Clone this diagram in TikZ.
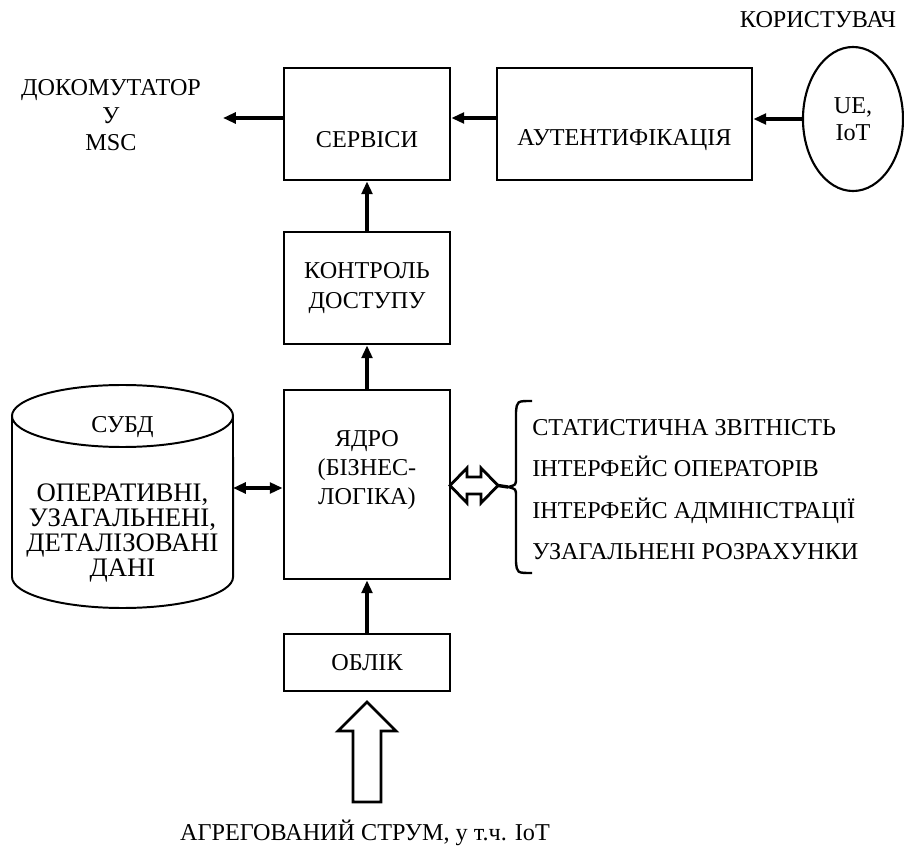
\documentclass[tikz,border=0pt]{standalone}
\usepackage{fontspec}
\setmainfont{Liberation Serif}
\usetikzlibrary{arrows.meta, positioning, calc, shapes.geometric}

\begin{document}
\begin{tikzpicture}[x=0.025cm, y=-0.025cm, >={Triangle[length=0.32cm, width=0.27cm]},
  blk/.style={draw, line width=2pt, inner sep=0pt, minimum width=4.15cm},
  txt/.style={font=\fontsize{17.2}{20}\selectfont, align=center, inner sep=0pt},
  conn/.style={->, line width=2.2pt}]
  \useasboundingbox (0,0) rectangle (904,847);

  % Blocks of the central column
  \node[blk, minimum height=2.8cm] (serv) at (367,124) {};
  \node[txt] (servt) at (367,140) {СЕРВІСИ};
  \node[blk, minimum width=6.375cm, minimum height=2.8cm] (auth) at (624.5,124) {};
  \node[txt] (autht) at (624.5,140) {АУТЕНТИФІКАЦІЯ};
  \node[blk, txt, minimum height=2.8cm, font=\fontsize{17.2}{21.5}\selectfont] (ctrl) at (367,288) {КОНТРОЛЬ\\ДОСТУПУ};
  \node[blk, minimum height=4.725cm] (core) at (367,484.5) {};
  \node[txt, font=\fontsize{17.2}{20.5}\selectfont] (coret) at (367,470) {ЯДРО\\(БІЗНЕС-\\ЛОГІКА)};
  \node[blk, txt, minimum height=1.425cm] (acct) at (367,662.5) {ОБЛІК};

  % User side
  \node[draw, ellipse, line width=1.5pt, minimum width=2.5cm, minimum height=3.6cm, txt, font=\fontsize{17.2}{19}\selectfont] (ue) at (853,119) {UE,\\IoT};
  \node[txt] (user) at (818,20) {КОРИСТУВАЧ};
  \node[txt, font=\fontsize{17.2}{19.5}\selectfont] (msc) at (111,115.5) {ДОКОМУТАТОР\\У\\MSC};
  \coordinate (mscin) at (223,118);

  % DBMS cylinder
  \draw[line width=1.4pt] (122.5,416) ellipse [x radius=2.7625cm, y radius=0.775cm];
  \draw[line width=1.4pt] (12,416) -- (12,577) arc[start angle=180, end angle=360, x radius=2.7625cm, y radius=0.775cm] -- (233,416);
  \node[txt] (dbms) at (122.5,427) {СУБД};
  \node[txt, font=\fontsize{19}{17.9}\selectfont] (data) at (122.5,533) {ОПЕРАТИВНІ,\\УЗАГАЛЬНЕНІ,\\ДЕТАЛІЗОВАНІ\\ДАНІ};
  \coordinate (dbr) at (233,488);

  % Connectors
  \draw[conn] (serv.west |- mscin) -- (mscin);
  \draw[conn] (auth.west |- mscin) -- (serv.east |- mscin);
  \draw[conn] (ue.west) -- (auth.east |- ue.west);
  \draw[conn] (ctrl) -- (serv);
  \draw[conn] (core) -- (ctrl);
  \draw[conn] (acct) -- (core);
  \draw[<->, line width=2.2pt] (dbr) -- (core.west |- dbr);

  % Hollow double arrow and bracket
  \draw[line width=2pt, line join=miter] (450,485.5) -- (467,468) -- (467,477) -- (481,477) -- (481,468) -- (498,485.5) -- (481,503) -- (481,494) -- (467,494) -- (467,503) -- cycle;
  \coordinate (dtip) at (498,485.5);
  \coordinate (brc) at (508,487);
  \draw[line width=2.4pt] (dtip) -- (brc);
  \draw[line width=1.7pt] (532,401) .. controls (517,401) .. (516,412) -- (516,478) .. controls (516,485) .. (508,487) .. controls (516,489) .. (516,496) -- (516,562) .. controls (517,573) .. (532,573);
  \node[txt, align=left, anchor=west, font=\fontsize{17.2}{29.4}\selectfont] (funcs) at (532,489.5) {СТАТИСТИЧНА ЗВІТНІСТЬ\\ІНТЕРФЕЙС ОПЕРАТОРІВ\\ІНТЕРФЕЙС АДМІНІСТРАЦІЇ\\УЗАГАЛЬНЕНІ РОЗРАХУНКИ};

  % Input stream
  \draw[line width=2pt] (367,702) -- (396,731) -- (381,731) -- (381,802) -- (353,802) -- (353,731) -- (338,731) -- cycle;
  \node[txt] (flow) at (365,833) {АГРЕГОВАНИЙ СТРУМ, у т.ч. IoT};
\end{tikzpicture}
\end{document}
